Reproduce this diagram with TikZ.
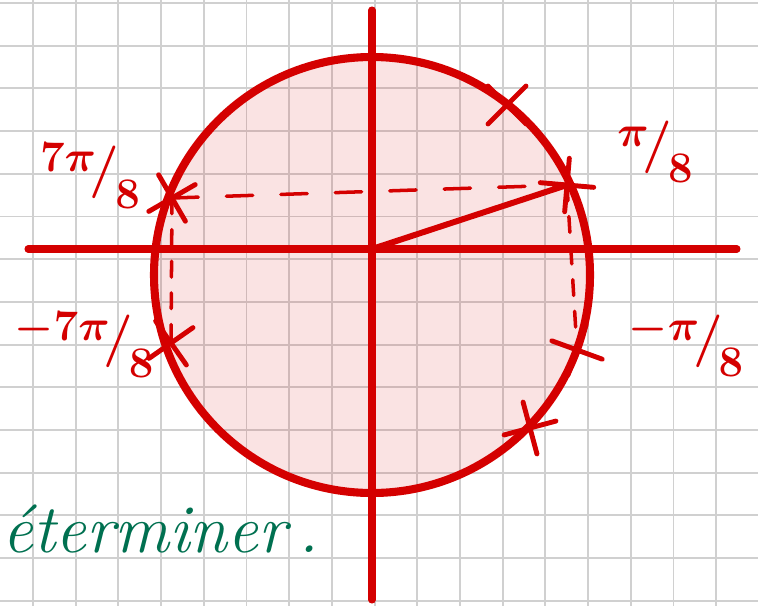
\documentclass[tikz,border=0pt]{standalone}
\usepackage{amsmath,amssymb,bm}
\usetikzlibrary{shapes.misc}

\definecolor{inkred}{RGB}{212,0,0}
\definecolor{inkgreen}{RGB}{0,112,80}
\definecolor{gridgray}{RGB}{208,208,208}

\newcommand{\slfrac}[2]{\raisebox{0.6ex}{#1}\kern-0.12em/\kern-0.08em\raisebox{-0.95ex}{#2}}

\tikzset{
  gridline/.style={draw=gridgray, line width=1.1pt},
  axis/.style={draw=inkred, line width=4pt, line cap=round},
  unitcircle/.style={draw=inkred, line width=4.6pt, fill=inkred, fill opacity=0.11},
  radline/.style={draw=inkred, line width=3.4pt, line cap=round},
  guideh/.style={draw=inkred, line width=2pt, line cap=round, dash pattern=on 15pt off 16pt},
  guidev/.style={draw=inkred, line width=2pt, line cap=round, dash pattern=on 9pt off 9pt},
  tick/.style={draw=inkred, cross out, line width=2.8pt, line cap=round,
    minimum size=0.66cm, inner sep=0pt},
  anglelabel/.style={text=inkred, inner sep=0pt,
    font=\fontsize{30}{34}\selectfont\bfseries\boldmath},
  note/.style={text=inkgreen, inner sep=0pt,
    font=\fontsize{39}{44}\selectfont\itshape}
}

\begin{document}
\begin{tikzpicture}[x=0.02cm, y=-0.02cm]
  \useasboundingbox (0,0) rectangle (758,606);

  % squared paper
  \foreach \i in {0,...,17}
    \draw[gridline] ({33+42.7*\i},0) -- ({33+42.7*\i},606);
  \foreach \j in {0,...,14}
    \draw[gridline] (0,{3+42.7*\j}) -- (758,{3+42.7*\j});

  \draw[unitcircle] (372,275) circle[radius=218];

  % axes
  \coordinate (O)  at (372,249);
  \coordinate (xl) at (28,249);
  \coordinate (xr) at (737,249);
  \coordinate (yt) at (372,10);
  \coordinate (yb) at (372,600);
  \draw[axis] (xl) -- (xr);
  \draw[axis] (yt) -- (yb);

  % marks on the circle
  \node[tick, rotate=40]  (p1) at (567,185) {};
  \node[tick, rotate=-15] (p7) at (172,198) {};
  \node[tick, rotate=-10] (m7) at (171,343) {};
  \node[tick, rotate=25]  (m1) at (577,350) {};
  \node[tick, rotate=0]   (pa) at (507,105) {};
  \node[tick, rotate=-30] (pb) at (530,428) {};

  \draw[guideh] (p7.center) -- (p1.center);
  \draw[guidev] (p7.center) -- (m7.center);
  \draw[guidev] (p1.center) -- (m1.center);
  \draw[radline] (O) -- (p1.center);

  \node[anglelabel] (l7)  at (90,176)  {\slfrac{$7\pi$}{$8$}};
  \node[anglelabel] (l1)  at (655,152) {\slfrac{$\pi$}{$8$}};
  \node[anglelabel] (lm7) at (84,345)  {\slfrac{$-7\pi$}{$8$}};
  \node[anglelabel] (lm1) at (686,345) {\slfrac{$-\pi$}{$8$}};

  \node[note, anchor=base west] (txt) at (2,552) {éterminer\,.};
\end{tikzpicture}
\end{document}
